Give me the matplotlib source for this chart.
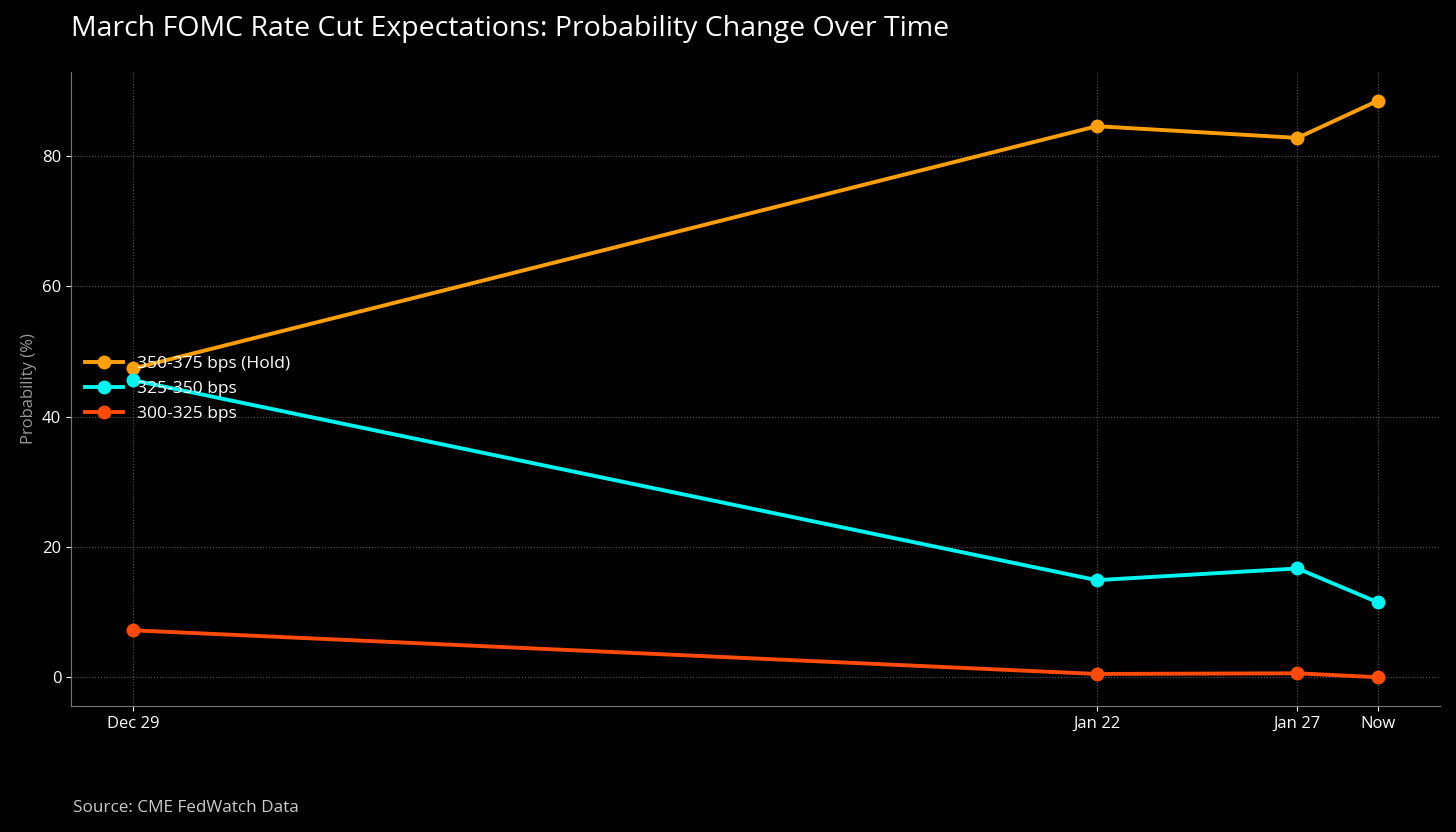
import matplotlib.pyplot as plt
import numpy as np

dates = np.array(["2025-12-29", "2026-01-22", "2026-01-27", "2026-01-29"], dtype="datetime64[D]")
date_labels = ["Dec 29", "Jan 22", "Jan 27", "Now"]

hold = [47.4, 84.6, 82.8, 88.5]
cut25 = [45.6, 14.9, 16.7, 11.5]
cut50 = [7.2, 0.5, 0.6, 0.0]

series = [
    ("350-375 bps (Hold)", hold, "#FF9F0A"),
    ("325-350 bps", cut25, "#00F5F0"),
    ("300-325 bps", cut50, "#FF4A0A"),
]

plt.rcParams["font.family"] = ["Open Sans", "DejaVu Sans"]

fig = plt.figure(figsize=(14.56, 8.32), dpi=100, facecolor="black")
ax = fig.add_axes([0.0488, 0.1514, 0.9402, 0.7621], facecolor="black")

x = dates.astype(object)
for name, vals, col in series:
    ax.plot(x, vals, color=col, lw=2.8, marker="o", ms=9, label=name)

ax.set_xticks(x)
ax.set_xticklabels(date_labels)
ax.set_yticks([0, 20, 40, 60, 80])
ax.tick_params(colors="white", labelsize=12)
ax.grid(True, color="#555555", ls=":", lw=0.8)
for s in ["top", "right"]:
    ax.spines[s].set_visible(False)
for s in ["left", "bottom"]:
    ax.spines[s].set_color("#777777")

ax.set_ylabel("Probability (%)", color="#999999", fontsize=12)

ax.legend(loc="center left", frameon=False, fontsize=12.5, labelcolor="white",
          handlelength=2.2, borderaxespad=0.4)

fig.text(0.0488, 0.965, "March FOMC Rate Cut Expectations: Probability Change Over Time",
         color="white", fontsize=20.5, va="center", ha="left")
fig.text(0.05, 0.029, "Source: CME FedWatch Data", color="#cccccc", fontsize=12.3,
         va="center", ha="left")

fig.savefig("out.png", dpi=100, facecolor="black")
